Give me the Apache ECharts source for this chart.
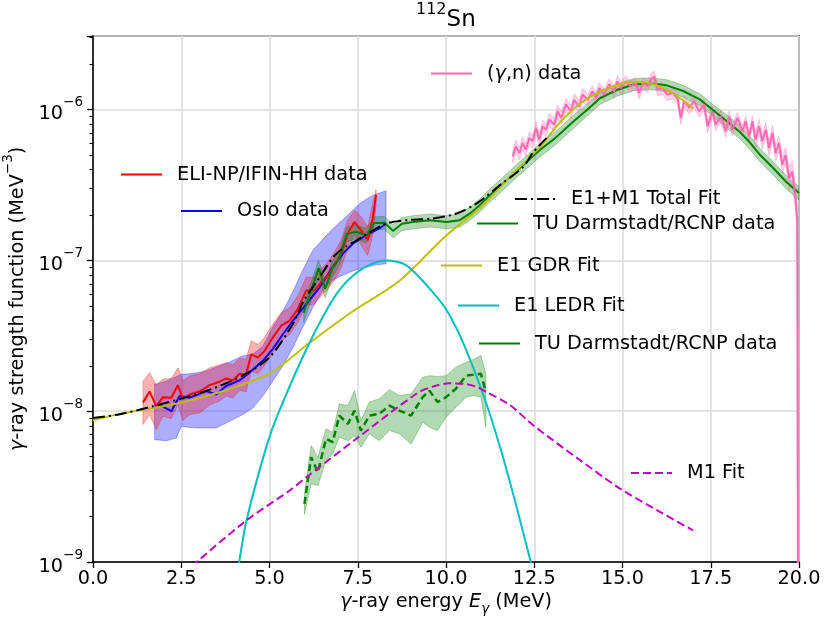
<!DOCTYPE html>
<html>
<head>
<meta charset="utf-8">
<title>112Sn gamma-ray strength function</title>
<script src="https://cdn.jsdelivr.net/npm/echarts@6/dist/echarts.min.js"></script>
<style>
  html, body { margin: 0; padding: 0; background: #fff; }
  #chart { width: 824px; height: 619px; }
</style>
</head>
<body>
<div id="chart"></div>
<script>
// ---------- data (E in MeV, f in MeV^-3) ----------

// Oslo data (blue) + uncertainty band
const osloE = [1.75, 1.89, 2.22, 2.45, 2.74, 3.21, 3.49, 3.77, 4.15, 4.43, 4.81, 5.09, 5.38, 5.66, 6.04, 6.42, 6.79, 7.08, 7.36, 7.74, 8.11, 8.30];
const osloV = [1.08e-8, 1.10e-8, 1.0e-8, 1.26e-8, 1.23e-8, 1.36e-8, 1.29e-8, 1.47e-8, 1.60e-8, 1.80e-8, 2.16e-8, 2.58e-8, 3.24e-8, 3.98e-8, 5.14e-8, 6.64e-8, 9.03e-8, 1.11e-7, 1.29e-7, 1.47e-7, 1.63e-7, 1.75e-7];
const osloBandE = [1.745, 2.075, 2.36, 2.5, 2.74, 2.93, 3.21, 3.49, 3.87, 4.245, 4.53, 4.81, 5.09, 5.38, 5.66, 5.94, 6.23, 6.51, 6.79, 6.98, 7.17, 7.36, 7.55, 7.74, 7.93, 8.02, 8.30];
const osloHi = [1.51e-8, 1.58e-8, 1.70e-8, 1.76e-8, 1.77e-8, 1.80e-8, 1.85e-8, 1.96e-8, 2.12e-8, 2.33e-8, 2.39e-8, 2.70e-8, 3.6e-8, 4.6e-8, 6.2e-8, 8.6e-8, 1.17e-7, 1.38e-7, 1.62e-7, 1.78e-7, 1.95e-7, 2.15e-7, 2.38e-7, 2.55e-7, 2.7e-7, 2.75e-7, 2.9e-7];
const osloLo = [6.48e-9, 6.37e-9, 6.64e-9, 7.94e-9, 7.8e-9, 7.74e-9, 7.74e-9, 7.74e-9, 8.58e-9, 9.5e-9, 1.05e-8, 1.26e-8, 1.58e-8, 2.0e-8, 2.64e-8, 3.59e-8, 4.89e-8, 6.31e-8, 7.36e-8, 7.8e-8, 8.15e-8, 8.5e-8, 8.8e-8, 9.0e-8, 9.26e-8, 9.35e-8, 9.5e-8];

// ELI-NP/IFIN-HH data (red) + band
const eliE = [1.415, 1.604, 1.792, 1.981, 2.217, 2.406, 2.547, 2.736, 3.019, 3.302, 3.585, 3.774, 3.962, 4.151, 4.340, 4.481, 4.670, 4.858, 5.094, 5.330, 5.566, 5.802, 6.038, 6.274, 6.462, 6.651, 6.840, 7.028, 7.217, 7.406, 7.594, 7.783, 7.925, 8.019];
const eliV = [1.14e-8, 1.35e-8, 1.08e-8, 1.24e-8, 1.23e-8, 1.49e-8, 1.20e-8, 1.29e-8, 1.35e-8, 1.49e-8, 1.57e-8, 1.65e-8, 1.60e-8, 1.77e-8, 1.76e-8, 2.39e-8, 2.27e-8, 2.51e-8, 3.08e-8, 3.69e-8, 3.98e-8, 4.76e-8, 6.31e-8, 6.31e-8, 7.17e-8, 7.94e-8, 9.26e-8, 1.11e-7, 1.51e-7, 1.80e-7, 1.58e-7, 1.36e-7, 1.90e-7, 2.71e-7];
const eliHi = [1.58e-8, 1.80e-8, 1.49e-8, 1.63e-8, 1.65e-8, 1.94e-8, 1.60e-8, 1.71e-8, 1.77e-8, 1.94e-8, 2.03e-8, 2.10e-8, 2.03e-8, 2.24e-8, 2.21e-8, 2.93e-8, 2.78e-8, 3.08e-8, 3.78e-8, 4.52e-8, 4.83e-8, 5.84e-8, 7.74e-8, 7.74e-8, 8.80e-8, 9.75e-8, 1.14e-7, 1.36e-7, 1.85e-7, 2.15e-7, 1.95e-7, 1.67e-7, 2.39e-7, 2.95e-7];
const eliLo = [8.15e-9, 9.50e-9, 7.55e-9, 9.26e-9, 8.94e-9, 1.10e-8, 8.67e-9, 9.50e-9, 9.75e-9, 1.10e-8, 1.17e-8, 1.26e-8, 1.23e-8, 1.37e-8, 1.35e-8, 1.85e-8, 1.77e-8, 2.0e-8, 2.45e-8, 2.93e-8, 3.21e-8, 3.88e-8, 5.01e-8, 5.14e-8, 5.84e-8, 6.47e-8, 7.36e-8, 8.94e-8, 1.20e-7, 1.47e-7, 1.26e-7, 1.08e-7, 1.47e-7, 2.3e-7];

// TU Darmstadt/RCNP data, E1 part (solid green), relative error
const tuE = [5.97, 6.39, 6.58, 6.77, 6.98, 7.19, 7.45, 7.74, 7.97, 8.26, 8.5, 8.75, 9.07, 9.54, 10.02, 10.39, 10.68, 10.96, 11.24, 11.53, 11.9, 12.28, 12.66, 13.1, 13.6, 14.0, 14.36, 14.84, 15.31, 15.8, 16.25, 16.72, 17.19, 17.57, 17.95, 18.3, 18.6, 18.9, 19.27, 19.65, 20.0];
const tuV = [4.5e-8, 8.9e-8, 6.5e-8, 8.7e-8, 1.05e-7, 1.50e-7, 1.55e-7, 1.47e-7, 1.77e-7, 1.78e-7, 1.57e-7, 1.75e-7, 1.80e-7, 1.85e-7, 1.80e-7, 1.85e-7, 2.05e-7, 2.33e-7, 2.71e-7, 3.1e-7, 3.75e-7, 4.5e-7, 5.4e-7, 6.5e-7, 8.3e-7, 1.0e-6, 1.19e-6, 1.35e-6, 1.47e-6, 1.49e-6, 1.45e-6, 1.33e-6, 1.17e-6, 9.9e-7, 8.4e-7, 7.2e-7, 6.1e-7, 5.0e-7, 4.1e-7, 3.3e-7, 2.8e-7];
const tuErr = [0.14, 0.13, 0.13, 0.12, 0.12, 0.11, 0.11, 0.11, 0.10, 0.10, 0.10, 0.10, 0.10, 0.10, 0.10, 0.10, 0.10, 0.10, 0.10, 0.10, 0.10, 0.10, 0.10, 0.10, 0.10, 0.09, 0.09, 0.09, 0.09, 0.09, 0.09, 0.09, 0.09, 0.09, 0.10, 0.10, 0.10, 0.10, 0.10, 0.10, 0.10];

// TU Darmstadt/RCNP data, M1 part (dashed green) + band
const tuM1E = [5.99, 6.18, 6.37, 6.60, 6.79, 6.98, 7.22, 7.41, 7.59, 7.83, 8.11, 8.40, 8.68, 9.01, 9.34, 9.53, 9.76, 10.0, 10.28, 10.57, 10.80, 10.99, 11.13];
const tuM1V = [2.43e-9, 4.95e-9, 3.94e-9, 6.55e-9, 6.23e-9, 9.36e-9, 8.24e-9, 1.01e-8, 7.44e-9, 9.36e-9, 9.60e-9, 1.09e-8, 1.01e-8, 9.36e-9, 1.24e-8, 1.37e-8, 1.15e-8, 1.24e-8, 1.41e-8, 1.72e-8, 1.75e-8, 1.77e-8, 1.34e-8];
const tuM1Hi = [2.83e-9, 5.92e-9, 4.95e-9, 7.63e-9, 7.26e-9, 1.12e-8, 1.09e-8, 1.37e-8, 8.67e-9, 1.15e-8, 1.21e-8, 1.39e-8, 1.27e-8, 1.30e-8, 1.68e-8, 1.72e-8, 1.70e-8, 1.72e-8, 1.96e-8, 2.11e-8, 2.22e-8, 2.34e-8, 1.77e-8];
const tuM1Lo = [2.08e-9, 3.30e-9, 3.21e-9, 4.71e-9, 5.21e-9, 6.72e-9, 6.38e-9, 6.90e-9, 5.77e-9, 7.08e-9, 6.38e-9, 7.44e-9, 7.08e-9, 6.07e-9, 8.45e-9, 7.83e-9, 7.44e-9, 9.12e-9, 1.06e-8, 1.24e-8, 1.27e-8, 1.24e-8, 7.83e-9];

// (gamma,n) data (pink), relative error
const gnE = [11.89, 11.98, 12.08, 12.17, 12.26, 12.36, 12.45, 12.55, 12.64, 12.74, 12.83, 12.93, 13.07, 13.16, 13.26, 13.40, 13.54, 13.63, 13.77, 13.87, 14.01, 14.15, 14.25, 14.34, 14.48, 14.62, 14.76, 14.86, 14.95, 15.09, 15.24, 15.38, 15.47, 15.57, 15.71, 15.80, 15.90, 15.99, 16.13, 16.27, 16.42, 16.56, 16.65, 16.75, 16.89, 17.03, 17.17, 17.31, 17.41, 17.55, 17.64, 17.78, 17.93, 18.02, 18.11, 18.26, 18.40, 18.49, 18.59, 18.68, 18.77, 18.87, 18.96, 19.06, 19.15, 19.25, 19.34, 19.43, 19.53, 19.62, 19.72, 19.81, 19.91, 19.95, 19.97];
const gnV = [4.90e-7, 5.71e-7, 5.15e-7, 6.01e-7, 5.43e-7, 6.49e-7, 6.17e-7, 7.56e-7, 6.32e-7, 7.75e-7, 7.36e-7, 8.59e-7, 7.95e-7, 9.75e-7, 8.81e-7, 1.08e-6, 9.75e-7, 1.16e-6, 1.05e-6, 1.26e-6, 1.16e-6, 1.32e-6, 1.19e-6, 1.39e-6, 1.26e-6, 1.47e-6, 1.32e-6, 1.54e-6, 1.39e-6, 1.54e-6, 1.43e-6, 1.50e-6, 1.29e-6, 1.50e-6, 1.43e-6, 1.58e-6, 1.66e-6, 1.36e-6, 1.39e-6, 1.26e-6, 1.29e-6, 1.19e-6, 8.81e-7, 1.14e-6, 1.03e-6, 1.14e-6, 9.75e-7, 1.08e-6, 7.75e-7, 9.75e-7, 7.95e-7, 9.03e-7, 7.18e-7, 9.03e-7, 7.36e-7, 8.81e-7, 7.18e-7, 8.37e-7, 6.65e-7, 8.37e-7, 6.32e-7, 7.75e-7, 6.17e-7, 7.36e-7, 5.57e-7, 7.00e-7, 5.15e-7, 6.01e-7, 4.31e-7, 5.02e-7, 3.52e-7, 3.90e-7, 2.47e-7, 1.82e-7, 5e-10];
const gnErr = [0.10, 0.10, 0.10, 0.10, 0.10, 0.10, 0.10, 0.10, 0.10, 0.10, 0.10, 0.10, 0.10, 0.10, 0.10, 0.10, 0.10, 0.10, 0.10, 0.10,
  0.09, 0.09, 0.09, 0.09, 0.09, 0.09, 0.09, 0.09, 0.09, 0.09, 0.09, 0.09, 0.09, 0.09, 0.09, 0.09, 0.09, 0.09, 0.09, 0.09,
  0.09, 0.09, 0.09, 0.09, 0.09, 0.09, 0.09, 0.09, 0.09, 0.09, 0.09, 0.09, 0.09, 0.09, 0.09, 0.09, 0.09, 0.09, 0.09, 0.09,
  0.12, 0.12, 0.12, 0.12, 0.12, 0.12, 0.12, 0.12, 0.12, 0.12, 0.18, 0.18, 0.18, 0.18, 0.30];

// fits
const gdrE = [0, 0.76, 2.5, 3.6, 5.0, 6.1, 7.3, 8.7, 10.0, 11.0, 11.9, 12.3, 12.7, 13.2, 13.8, 14.4, 15.0, 15.4, 15.9, 16.4, 17.0];
const gdrV = [8.7e-9, 9.6e-9, 1.14e-8, 1.34e-8, 1.78e-8, 2.8e-8, 4.5e-8, 7.4e-8, 1.46e-7, 2.27e-7, 3.78e-7, 4.64e-7, 5.8e-7, 8.1e-7, 1.10e-6, 1.33e-6, 1.49e-6, 1.53e-6, 1.47e-6, 1.30e-6, 1.02e-6];
const ledrE = [4.0, 4.14, 4.35, 4.91, 5.25, 6.1, 6.9, 7.56, 8.3, 8.9, 9.83, 10.11, 10.5, 11.05, 11.55, 12.0, 12.4, 12.6];
const ledrV = [6.5e-10, 1.0e-9, 1.89e-9, 5.8e-9, 9.7e-9, 2.74e-8, 6.0e-8, 8.6e-8, 1.0e-7, 9.2e-8, 5.4e-8, 4.3e-8, 2.8e-8, 1.3e-8, 5.6e-9, 2.32e-9, 1.0e-9, 6.5e-10];
const m1E = [2.8, 4.35, 5.58, 6.05, 7.47, 9.17, 9.6, 10.1, 10.5, 10.87, 11.15, 11.81, 12.47, 13.8, 14.93, 16.06, 17.0];
const m1V = [9.4e-10, 1.89e-9, 2.99e-9, 3.66e-9, 6.59e-9, 1.31e-8, 1.45e-8, 1.53e-8, 1.52e-8, 1.45e-8, 1.34e-8, 1.10e-8, 8.07e-9, 4.73e-9, 3.07e-9, 2.15e-9, 1.62e-9];
const totE = [0, 0.76, 1.70, 2.65, 3.59, 4.35, 5.01, 5.67, 5.95, 6.4, 6.9, 7.65, 8.32, 9.0, 9.64, 10.3, 10.87, 11.53, 12.19, 12.47, 12.85];
const totV = [9.03e-9, 9.55e-9, 1.08e-8, 1.24e-8, 1.47e-8, 1.78e-8, 2.29e-8, 3.82e-8, 5.3e-8, 7.6e-8, 1.11e-7, 1.44e-7, 1.76e-7, 1.86e-7, 1.90e-7, 2.05e-7, 2.39e-7, 3.16e-7, 4.18e-7, 5.2e-7, 6.5e-7];

// ---------- helpers ----------
const FONT = 'DejaVu Sans';
const FS = 19.3;
const pts = (xs, ys) => xs.map((x, i) => [x, ys[i]]);

// filled band between lo and hi, drawn once as one polygon
function band(xs, lo, hi, fill, stroke) {
  return {
    type: 'custom',
    silent: true,
    clip: true,
    data: xs.map((x, i) => [x, lo[i], hi[i]]),
    encode: { x: 0, y: [1, 2] },
    renderItem(params, api) {
      if (params.dataIndex !== 0) return;
      const top = xs.map((x, i) => api.coord([x, hi[i]]));
      const bot = xs.map((x, i) => api.coord([x, lo[i]])).reverse();
      return {
        type: 'polygon',
        shape: { points: top.concat(bot) },
        style: { fill: fill, stroke: stroke, lineWidth: 1 }
      };
    }
  };
}

function line(name, xs, ys, color, opts) {
  return Object.assign({
    name: name,
    type: 'line',
    data: pts(xs, ys),
    symbol: 'none',
    showSymbol: false,
    clip: true,
    color: color,
    lineStyle: { color: color, width: 2 }
  }, opts || {});
}

function legendAt(name, left, cy, extra) {
  return Object.assign({
    data: [name],
    left: left,
    top: cy - 10,
    padding: 0,
    itemWidth: 41,
    itemHeight: 20,
    selectedMode: false,
    itemStyle: { opacity: 0 },
    textStyle: {
      fontFamily: FONT, fontSize: FS, color: '#000', lineHeight: 20,
      padding: [0, 0, 0, 10]
    }
  }, extra || {});
}

// band edges from relative errors
const tuHi = tuV.map((v, i) => v * (1 + tuErr[i]));
const tuLo = tuV.map((v, i) => v * (1 - tuErr[i]));
const gnHi = gnV.map((v, i) => v * (1 + gnErr[i]));
const gnLo = gnV.map((v, i) => v * (1 - gnErr[i]));

const supRich = {
  b: { fontFamily: FONT, fontSize: FS, color: '#000', lineHeight: 28, verticalAlign: 'bottom' },
  s: { fontFamily: FONT, fontSize: 13.5, color: '#000', lineHeight: 16, verticalAlign: 'top' }
};

const chart = echarts.init(document.getElementById('chart'));

chart.setOption({
  animation: false,
  backgroundColor: '#fff',
  title: {
    text: '{s|112}{b|Sn}',
    left: 416,
    top: 2,
    padding: 0,
    textStyle: {
      fontWeight: 'normal',
      rich: {
        b: { fontFamily: FONT, fontSize: 23, fontWeight: 'normal', color: '#000', lineHeight: 30, verticalAlign: 'bottom' },
        s: { fontFamily: FONT, fontSize: 16, fontWeight: 'normal', color: '#000', lineHeight: 18, verticalAlign: 'top' }
      }
    }
  },
  grid: {
    left: 93, right: 25, top: 36, bottom: 57,
    containLabel: false,
    outerBoundsMode: 'none',
    show: true, borderColor: '#000', borderWidth: 1.5, backgroundColor: 'transparent'
  },
  legend: [
    legendAt('ELI-NP/IFIN-HH data', 120, 174.5),
    legendAt('Oslo data', 180, 211),
    legendAt('(γ,n) data', 430, 73.5, {
      formatter: () => '({i|γ},n) data',
      textStyle: {
        fontFamily: FONT, fontSize: FS, color: '#000', lineHeight: 20, padding: [0, 0, 0, 10],
        rich: { i: { fontFamily: FONT, fontSize: FS, fontStyle: 'italic', color: '#000', lineHeight: 20 } }
      }
    }),
    legendAt('E1+M1 Total Fit', 514, 199),
    legendAt('TU Darmstadt/RCNP data', 476, 223.5),
    legendAt('E1 GDR Fit', 440, 265.5),
    legendAt('E1 LEDR Fit', 457, 305.5),
    legendAt('TU Darmstadt/RCNP data', 478, 343.5),
    legendAt('M1 Fit', 630, 473)
  ],
  xAxis: {
    type: 'value',
    min: 0, max: 20, interval: 2.5,
    name: '{i|γ}{n|-ray energy }{i|E}{sub|γ}{n| (MeV)}',
    nameLocation: 'middle',
    nameGap: 30,
    nameTextStyle: {
      rich: {
        n: { fontFamily: FONT, fontSize: FS, color: '#000', lineHeight: 24, verticalAlign: 'top' },
        i: { fontFamily: FONT, fontSize: FS, fontStyle: 'italic', color: '#000', lineHeight: 24, verticalAlign: 'top' },
        sub: { fontFamily: FONT, fontSize: 13.5, fontStyle: 'italic', color: '#000', lineHeight: 10, verticalAlign: 'bottom' }
      }
    },
    axisLine: { show: true, lineStyle: { color: '#000', width: 1.5 } },
    axisTick: { show: true, length: 6, lineStyle: { color: '#000', width: 1.3 } },
    axisLabel: {
      formatter: v => v.toFixed(1),
      fontFamily: FONT, fontSize: FS, color: '#000', margin: 7
    },
    splitLine: { show: true, lineStyle: { color: '#dcdcdc', width: 1.6 } }
  },
  yAxis: {
    type: 'log',
    logBase: 10,
    min: 1e-9, max: 3.08e-6,
    name: '{i|γ}{n|-ray strength function (MeV}{s|−3}{n|)}',
    nameLocation: 'middle',
    nameRotate: 90,
    nameGap: 62,
    nameTextStyle: {
      rich: {
        n: { fontFamily: FONT, fontSize: FS, color: '#000', lineHeight: 26, verticalAlign: 'bottom' },
        i: { fontFamily: FONT, fontSize: FS, fontStyle: 'italic', color: '#000', lineHeight: 26, verticalAlign: 'bottom' },
        s: { fontFamily: FONT, fontSize: 13.5, color: '#000', lineHeight: 14, verticalAlign: 'top' }
      }
    },
    axisLine: { show: true, lineStyle: { color: '#000', width: 1.5 } },
    axisTick: { show: true, length: 6, lineStyle: { color: '#000', width: 1.3 } },
    minorTick: { show: true, splitNumber: 9, length: 3.5, lineStyle: { color: '#000', width: 1.1 } },
    axisLabel: {
      margin: 10,
      showMaxLabel: false,
      formatter: v => {
        const l = Math.log10(v);
        const e = Math.round(l);
        if (Math.abs(l - e) > 1e-6) return '';
        return '{b|10}{s|' + (e < 0 ? '−' : '') + Math.abs(e) + '}';
      },
      rich: supRich
    },
    splitLine: { show: true, lineStyle: { color: '#dcdcdc', width: 1.6 } }
  },
  series: [
    band(osloBandE, osloLo, osloHi, 'rgba(0,0,255,0.32)', 'rgba(0,0,255,0.3)'),
    band(eliE, eliLo, eliHi, 'rgba(255,0,0,0.3)', 'rgba(255,0,0,0.3)'),
    band(tuE, tuLo, tuHi, 'rgba(0,128,0,0.3)', 'rgba(0,128,0,0.3)'),
    band(tuM1E, tuM1Lo, tuM1Hi, 'rgba(0,128,0,0.3)', 'rgba(0,128,0,0.3)'),
    band(gnE, gnLo, gnHi, 'rgba(255,105,180,0.3)', 'rgba(255,105,180,0.3)'),
    line('Oslo data', osloE, osloV, '#0000ff'),
    line('ELI-NP/IFIN-HH data', eliE, eliV, '#ff0000'),
    line('TU Darmstadt/RCNP data', tuE, tuV, '#008000'),
    line('TU Darmstadt/RCNP M1 data', tuM1E, tuM1V, '#008000', {
      lineStyle: { color: '#008000', width: 2.5, type: [7, 4] }
    }),
    line('(γ,n) data', gnE, gnV, '#ff69b4'),
    line('E1 GDR Fit', gdrE, gdrV, '#bfbf00', { smooth: 0.3 }),
    line('E1+M1 Total Fit', totE, totV, '#000000', {
      smooth: 0.3,
      lineStyle: { color: '#000', width: 2, type: [12, 4, 2, 4] }
    }),
    line('E1 LEDR Fit', ledrE, ledrV, '#00bfbf', { smooth: 0.3 }),
    line('M1 Fit', m1E, m1V, '#bf00bf', {
      smooth: 0.3,
      lineStyle: { color: '#bf00bf', width: 2, type: [8, 4] }
    })
  ]
});
</script>
</body>
</html>
